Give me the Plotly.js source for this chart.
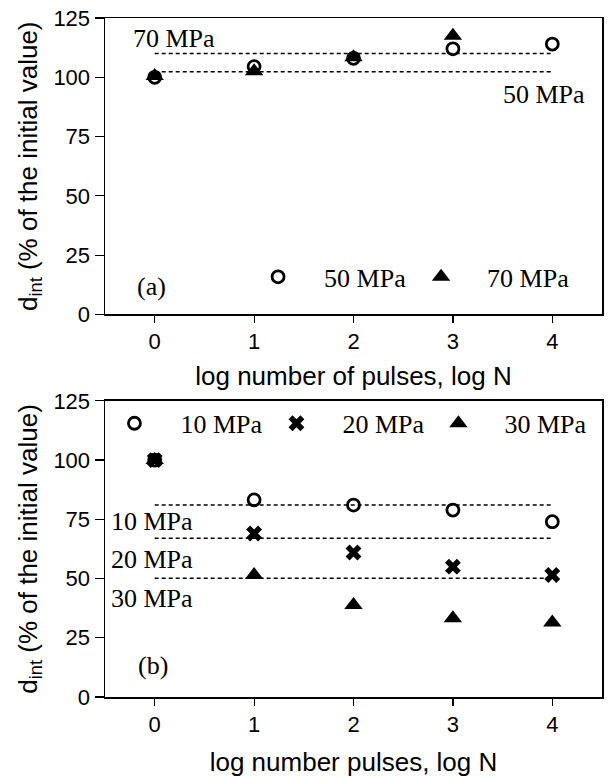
<!DOCTYPE html>
<html>
<head>
<meta charset="utf-8">
<script src="https://cdn.plot.ly/plotly-3.0.1.min.js"></script>
<style>html,body{margin:0;padding:0;background:#fff;}#chart{width:609px;height:779px;}</style>
</head>
<body>
<div id="chart"></div>
<script>
// ---- data (panel a) ----
const logN = [0, 1, 2, 3, 4];
const logN70 = [0, 1, 2, 3];
const a50MPa = [100, 104.5, 108, 112, 114];
const a70MPa = [100.5, 102.5, 108.5, 117.5];
const aMeanLevels = [110, 102.3];          // dashed lines: 70 MPa, 50 MPa
const aLabels = ['70 MPa', '50 MPa'];

// ---- data (panel b) ----
const b10MPa = [100, 83.2, 81, 78.9, 74];
const b20MPa = [100, 69, 61, 55, 51.5];
const b30MPa = [100, 51.5, 38.8, 33.2, 31.4];
const bMeanLevels = [81, 67, 50.1];        // dashed lines: 10, 20, 30 MPa
const bLabels = ['10 MPa', '20 MPa', '30 MPa'];

const xTicks = [0, 1, 2, 3, 4];
const yTicks = [0, 25, 50, 75, 100, 125];

const serif = 'Liberation Serif, Times New Roman, serif';
const sans = 'Liberation Sans, Arial, sans-serif';
const nb = '\u00a0\u00a0\u00a0\u00a0';

const circ = {symbol: 'circle-open', size: 12, color: '#000', line: {width: 2.8, color: '#000'}};
const tri = {symbol: 'triangle-up', size: 16, color: '#000'};
const xm = {symbol: 'x', size: 14, color: '#000'};

const traces = [
  {x: logN, y: a50MPa, type: 'scatter', mode: 'markers', name: nb + '50 MPa', marker: circ, xaxis: 'x', yaxis: 'y', legend: 'legend', cliponaxis: false},
  {x: logN70, y: a70MPa, type: 'scatter', mode: 'markers', name: nb + '70 MPa', marker: tri, xaxis: 'x', yaxis: 'y', legend: 'legend', cliponaxis: false},
  {x: logN, y: b10MPa, type: 'scatter', mode: 'markers', name: nb + '10 MPa', marker: circ, xaxis: 'x2', yaxis: 'y2', legend: 'legend2', cliponaxis: false},
  {x: logN, y: b20MPa, type: 'scatter', mode: 'markers', name: nb + '20 MPa', marker: xm, xaxis: 'x2', yaxis: 'y2', legend: 'legend2', cliponaxis: false},
  {x: logN, y: b30MPa, type: 'scatter', mode: 'markers', name: nb + '30 MPa', marker: tri, xaxis: 'x2', yaxis: 'y2', legend: 'legend2', cliponaxis: false}
];

const shapes = [];
aMeanLevels.forEach(v => shapes.push({type: 'line', xref: 'x', yref: 'y', x0: logN[0], x1: logN[logN.length - 1], y0: v, y1: v, line: {color: '#000', width: 1.5, dash: '4px,3px'}}));
bMeanLevels.forEach(v => shapes.push({type: 'line', xref: 'x2', yref: 'y2', x0: logN[0], x1: logN[logN.length - 1], y0: v, y1: v, line: {color: '#000', width: 1.5, dash: '4px,3px'}}));

const annFont = {family: serif, size: 26, color: '#000'};
const annotations = [
  {xref: 'x', yref: 'y', x: 0.19, y: 116.3, text: aLabels[0], showarrow: false, font: annFont},
  {xref: 'x', yref: 'y', x: 3.92, y: 92.8, text: aLabels[1], showarrow: false, font: annFont},
  {xref: 'x', yref: 'y', x: -0.03, y: 11.6, text: '(a)', showarrow: false, font: annFont},
  {xref: 'x2', yref: 'y2', x: -0.03, y: 74, text: bLabels[0], showarrow: false, font: annFont},
  {xref: 'x2', yref: 'y2', x: -0.03, y: 58.1, text: bLabels[1], showarrow: false, font: annFont},
  {xref: 'x2', yref: 'y2', x: -0.03, y: 41.6, text: bLabels[2], showarrow: false, font: annFont},
  {xref: 'x2', yref: 'y2', x: -0.02, y: 13.5, text: '(b)', showarrow: false, font: annFont}
];

function xAxis(title, anchor, standoff) {
  return {
    range: [-0.5, 4.5], tickvals: xTicks, ticks: 'outside', ticklen: 7, tickwidth: 1.2, tickcolor: '#000',
    showline: true, linecolor: '#000', linewidth: 1.5, mirror: true, showgrid: false, zeroline: false,
    tickfont: {family: sans, size: 22, color: '#000'},
    title: {text: title, font: {family: sans, size: 26, color: '#000'}, standoff: standoff},
    anchor: anchor
  };
}
function yAxis(domain, anchor) {
  return {
    range: [0, 125], tickvals: yTicks, ticks: 'outside', ticklen: 9, tickwidth: 1.2, tickcolor: '#000',
    showline: true, linecolor: '#000', linewidth: 1.5, mirror: true, showgrid: false, zeroline: false,
    tickfont: {family: sans, size: 22, color: '#000'},
    title: {text: 'd<sub>int</sub> (% of the initial value)', font: {family: sans, size: 26, color: '#000'}, standoff: 8},
    domain: domain, anchor: anchor
  };
}

const legFont = {family: serif, size: 26, color: '#000'};
const layout = {
  width: 609, height: 779,
  margin: {l: 105, r: 7, t: 17.7, b: 82},
  paper_bgcolor: '#fff', plot_bgcolor: '#fff',
  xaxis: xAxis('log number of pulses, log N', 'y', 13),
  yaxis: yAxis([0.5634, 1], 'x'),
  xaxis2: xAxis('log number pulses, log N', 'y2', 17),
  yaxis2: yAxis([0, 0.4362], 'x2'),
  showlegend: true,
  legend: {orientation: 'h', x: 0.308, y: 0.6187, xanchor: 'left', yanchor: 'middle', bgcolor: 'rgba(0,0,0,0)', font: legFont, entrywidth: 118},
  legend2: {orientation: 'h', x: 0.019, y: 0.403, xanchor: 'left', yanchor: 'middle', bgcolor: 'rgba(0,0,0,0)', font: legFont, entrywidth: 117},
  shapes: shapes,
  annotations: annotations
};

Plotly.newPlot('chart', traces, layout, {displayModeBar: false, staticPlot: true});
</script>
</body>
</html>
